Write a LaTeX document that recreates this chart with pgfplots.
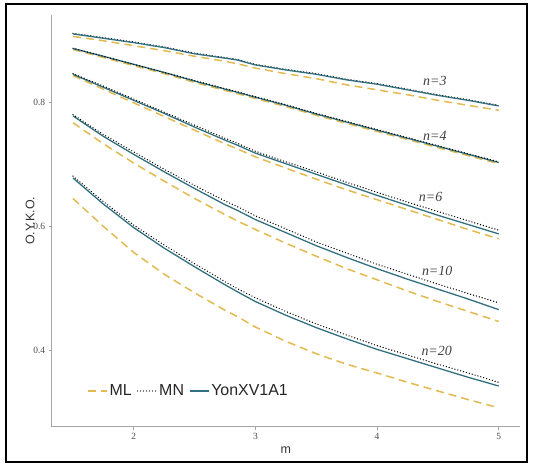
\documentclass[border=0pt]{standalone}
\usepackage{fontspec}
\setmainfont{Liberation Serif}
\setsansfont{Liberation Sans}
\usepackage{pgfplots}
\usepackage{pgfplotstable}
\pgfplotsset{compat=1.18}

\definecolor{mlcol}{RGB}{226,186,80}
\definecolor{yoncol}{RGB}{50,112,128}
\definecolor{axgrey}{RGB}{165,165,165}
\definecolor{txtgrey}{RGB}{77,77,77}

% columns: n = 3, 4, 6, 10, 20
\pgfplotstableread{
m    n3    n4     n6    n10   n20
1.5  0.906 0.885  0.843 0.767 0.645
1.75 0.899 0.872  0.821 0.733 0.600
2    0.891 0.859  0.799 0.702 0.558
2.25 0.883 0.846  0.777 0.673 0.523
2.5  0.874 0.832  0.755 0.645 0.493
2.75 0.866 0.819  0.733 0.619 0.465
2.85 0.862 0.814  0.725 0.609 0.455
3    0.855 0.806  0.712 0.595 0.438
3.25 0.846 0.793  0.694 0.573 0.415
3.5  0.838 0.779  0.676 0.552 0.395
3.75 0.828 0.766  0.659 0.532 0.378
4    0.820 0.753  0.643 0.514 0.364
4.25 0.812 0.740  0.627 0.496 0.349
4.5  0.803 0.727  0.611 0.479 0.335
4.75 0.795 0.714  0.595 0.463 0.321
5    0.787 0.701  0.580 0.447 0.308
}\ml

\pgfplotstableread{
m    n3    n4     n6    n10   n20
1.5  0.911 0.887  0.846 0.780 0.681
1.75 0.904 0.874  0.826 0.748 0.640
2    0.897 0.861  0.805 0.720 0.602
2.25 0.889 0.848  0.784 0.692 0.570
2.5  0.879 0.835  0.763 0.666 0.540
2.75 0.872 0.822  0.742 0.641 0.511
2.85 0.869 0.817  0.734 0.632 0.500
3    0.861 0.809  0.721 0.617 0.485
3.25 0.853 0.796  0.704 0.596 0.463
3.5  0.846 0.782  0.688 0.575 0.443
3.75 0.837 0.769  0.671 0.557 0.425
4    0.830 0.756  0.655 0.539 0.408
4.25 0.821 0.743  0.639 0.523 0.393
4.5  0.812 0.730  0.624 0.507 0.378
4.75 0.804 0.717  0.609 0.492 0.364
5    0.795 0.704  0.594 0.477 0.349
}\mn

\pgfplotstableread{
m    n3    n4     n6    n10   n20
1.5  0.910 0.8865 0.845 0.778 0.678
1.75 0.903 0.874  0.824 0.745 0.636
2    0.896 0.861  0.803 0.716 0.598
2.25 0.888 0.848  0.782 0.688 0.565
2.5  0.878 0.834  0.760 0.661 0.535
2.75 0.871 0.821  0.739 0.635 0.506
2.85 0.868 0.816  0.731 0.626 0.495
3    0.860 0.808  0.718 0.611 0.479
3.25 0.852 0.795  0.701 0.590 0.457
3.5  0.845 0.781  0.684 0.569 0.437
3.75 0.836 0.768  0.667 0.550 0.419
4    0.829 0.755  0.650 0.532 0.402
4.25 0.820 0.742  0.634 0.515 0.387
4.5  0.811 0.729  0.618 0.499 0.372
4.75 0.803 0.716  0.603 0.483 0.357
5    0.794 0.703  0.588 0.466 0.343
}\yon

\pgfplotsset{
  mlstyle/.style={mlcol, line width=1.5bp, dash pattern=on 8bp off 5bp},
  mnstyle/.style={black, line width=1.4bp, line cap=round, dash pattern=on 0bp off 3bp},
  yonstyle/.style={yoncol, line width=1.3bp},
}

\begin{document}
\begin{tikzpicture}
\useasboundingbox (0bp,0bp) rectangle (533bp,467bp);
\draw[line width=1.8bp] (6bp,5bp) rectangle (527bp,463bp);
\begin{axis}[at={(51.7bp,40.3bp)}, anchor=south west,
  scale only axis, width=468.3bp, height=411.7bp,
  xmin=1.325, xmax=5.175, ymin=0.2775, ymax=0.9405,
  axis x line*=bottom, axis y line*=left,
  axis line style={axgrey, line width=1.2bp},
  xtick={2,3,4,5}, ytick={0.4,0.6,0.8},
  tick align=outside, major tick length=3bp,
  tick style={axgrey, line width=0.8bp},
  tick label style={font=\fontsize{9.5}{10}\selectfont, text=txtgrey, /pgf/number format/assume math mode=true},
  yticklabel style={/pgf/number format/fixed, /pgf/number format/precision=1},
  xlabel={m}, ylabel={O.Y.K.O.},
  every axis x label/.style={at={(axis description cs:0.5,-0.0566)}, anchor=center,
    font=\sffamily\fontsize{12.5}{14}\selectfont, text=black!80},
  every axis y label/.style={at={(axis description cs:-0.0463,0.5)}, rotate=90, anchor=center,
    font=\sffamily\fontsize{12.5}{14}\selectfont, text=black!80},
  legend style={at={(axis description cs:0.069,0.0867)}, anchor=west, draw=none, fill=none,
    font=\sffamily\fontsize{16}{18}\selectfont, text=black!85, legend columns=3,
    /tikz/every even column/.append style={column sep=3bp}},
  legend cell align=left,
  legend image code/.code={\draw[#1] (0bp,0bp) -- (19bp,0bp);},
  clip=false]

\addplot[mlstyle] table[x=m,y=n3]{\ml}; \addlegendentry{ML}
\addplot[mnstyle] table[x=m,y=n3]{\mn}; \addlegendentry{MN}
\addplot[yonstyle] table[x=m,y=n3]{\yon}; \addlegendentry{YonXV1A1}

\addplot[mlstyle, forget plot] table[x=m,y=n4]{\ml};
\addplot[mlstyle, forget plot] table[x=m,y=n6]{\ml};
\addplot[mlstyle, forget plot] table[x=m,y=n10]{\ml};
\addplot[mlstyle, forget plot] table[x=m,y=n20]{\ml};

\addplot[yonstyle, forget plot] table[x=m,y=n4]{\yon};
\addplot[yonstyle, forget plot] table[x=m,y=n6]{\yon};
\addplot[yonstyle, forget plot] table[x=m,y=n10]{\yon};
\addplot[yonstyle, forget plot] table[x=m,y=n20]{\yon};

\addplot[mnstyle, forget plot] table[x=m,y=n4]{\mn};
\addplot[mnstyle, forget plot] table[x=m,y=n6]{\mn};
\addplot[mnstyle, forget plot] table[x=m,y=n10]{\mn};
\addplot[mnstyle, forget plot] table[x=m,y=n20]{\mn};

\begin{scope}[every node/.style={font=\itshape\fontsize{14}{16}\selectfont, text=black!75}]
\node at (axis cs:4.475,0.834) {n=3};
\node at (axis cs:4.475,0.745) {n=4};
\node at (axis cs:4.44,0.647) {n=6};
\node at (axis cs:4.494,0.528) {n=10};
\node at (axis cs:4.49,0.399) {n=20};
\end{scope}
\end{axis}
\end{tikzpicture}
\end{document}
